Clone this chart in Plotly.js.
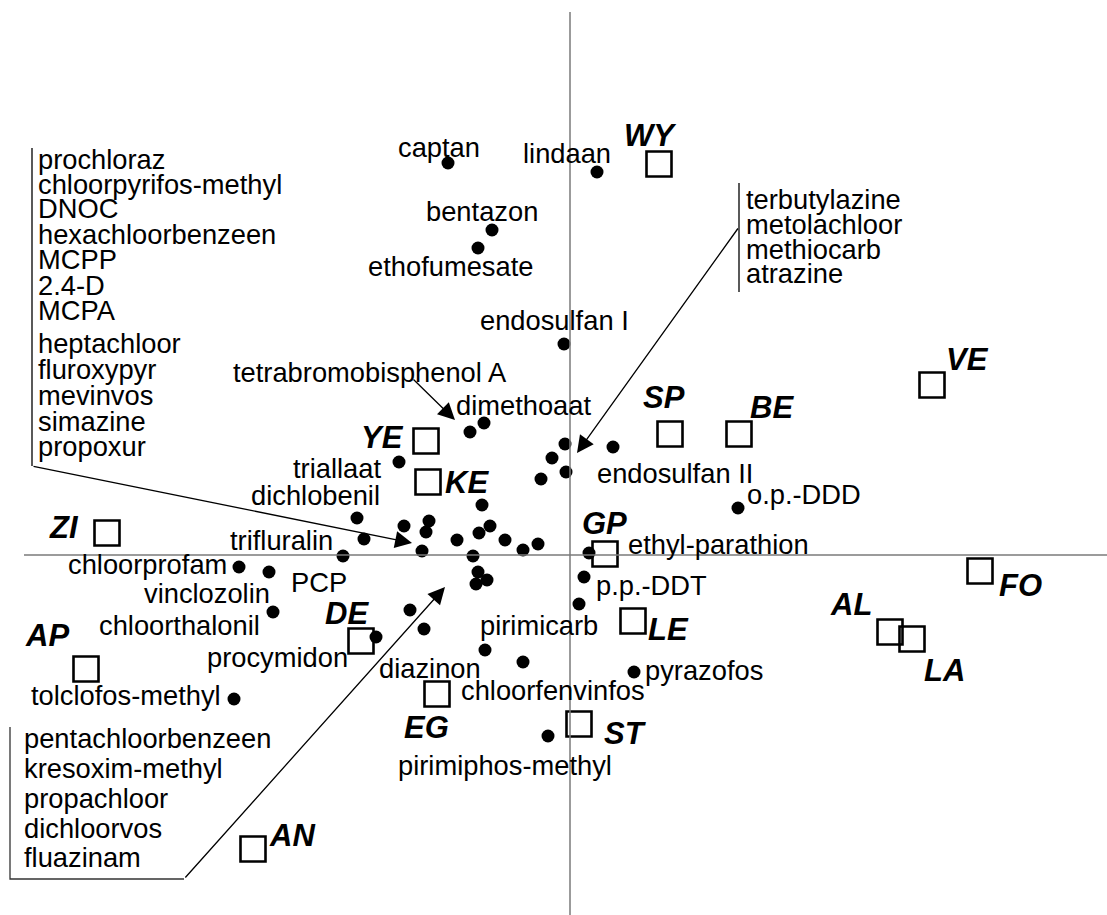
<!DOCTYPE html>
<html><head><meta charset="utf-8">
<script src="https://cdn.plot.ly/plotly-3.0.1.min.js"></script>
<style>html,body{margin:0;padding:0;background:#fff}</style>
</head><body><div id="chart" style="width:1107px;height:915px"></div>
<script>
// ---- data (biplot scores) ----
const labelledNames = ["captan","lindaan","bentazon","ethofumesate","endosulfan I","dimethoaat","tetrabromobisphenol A","triallaat","dichlobenil","trifluralin","PCP","chloorprofam","vinclozolin","chloorthalonil","procymidon","tolclofos-methyl","endosulfan II","o.p.-DDD","ethyl-parathion","p.p.-DDT","pirimicarb","diazinon","chloorfenvinfos","pyrazofos","pirimiphos-methyl"];
const labelledX = [-1.22,0.27,-0.78,-0.92,-0.06,-0.86,-1.00,-1.71,-2.13,-2.06,-2.27,-3.31,-3.01,-2.97,-1.94,-3.36,0.43,1.68,0.19,0.14,0.09,-0.85,-0.47,0.64,-0.22];
const labelledY = [3.92,3.83,3.25,3.07,2.11,1.32,1.23,0.93,0.37,0.16,-0.01,-0.12,-0.17,-0.57,-0.82,-1.44,1.08,0.47,0.02,-0.22,-0.49,-0.95,-1.07,-1.17,-1.81];

const leftGroupNames = ["prochloraz","chloorpyrifos-methyl","DNOC","hexachloorbenzeen","MCPP","2.4-D","MCPA","heptachloor","fluroxypyr","mevinvos","simazine","propoxur"];
const leftGroupX = [-0.88,-1.66,-1.41,-1.44,-0.80,-0.91,-1.13,-0.65,-0.32,-0.47,-1.48,-0.97];
const leftGroupY = [0.50,0.29,0.34,0.23,0.29,0.22,0.15,0.15,0.11,0.05,0.04,-0.01];

const rightGroupNames = ["terbutylazine","metolachloor","methiocarb","atrazine"];
const rightGroupX = [-0.05,-0.18,-0.04,-0.29];
const rightGroupY = [1.11,0.97,0.83,0.76];

const bottomGroupNames = ["pentachloorbenzeen","kresoxim-methyl","propachloor","dichloorvos","fluazinam"];
const bottomGroupX = [-0.92,-0.83,-0.94,-1.60,-1.46];
const bottomGroupY = [-0.17,-0.25,-0.29,-0.55,-0.74];

const siteNames = ["WY","YE","KE","GP","SP","BE","VE","FO","AL","LA","LE","ZI","AP","DE","EG","ST","AN"];
const siteX = [0.89,-1.44,-1.42,0.35,1.00,1.69,3.62,4.10,3.20,3.42,0.63,-4.63,-4.84,-2.09,-1.33,0.09,-3.17];
const siteY = [3.91,1.14,0.73,0.01,1.21,1.21,1.70,-0.16,-0.77,-0.84,-0.66,0.22,-1.14,-0.86,-1.39,-1.69,-2.94];

// ---- layout helpers (label placement, pixels) ----
const labelShift = {"captan":[-9,16],"lindaan":[-30,19],"bentazon":[-10,19],"ethofumesate":[-28,-18],"endosulfan I":[-10,24],
 "dimethoaat":[39,18],"triallaat":[-62,-6],"dichlobenil":[-42,23],"trifluralin":[-83,-1],"PCP":[-24,-26],"chloorprofam":[-92,3],
 "vinclozolin":[-62,-21],"chloorthalonil":[-94,-13],"procymidon":[-99,-20],"tolclofos-methyl":[-108,4],"endosulfan II":[62,-26],
 "o.p.-DDD":[66,14],"ethyl-parathion":[129,9],"p.p.-DDT":[67,-8],"pirimicarb":[-40,-21],"diazinon":[-55,-18],
 "chloorfenvinfos":[30,-28],"pyrazofos":[70,2],"pirimiphos-methyl":[-43,-29]};
const siteShift = {"WY":[-9,29],"YE":[-44,4],"KE":[39,0],"GP":[-1,31],"SP":[-6,37],"BE":[33,27],"VE":[35,26],"FO":[40,-14],
 "AL":[-39,28],"LA":[32,-31],"LE":[35,-8],"ZI":[-43,6],"AP":[-39,34],"DE":[-14,28],"EG":[-11,-33],"ST":[46,-9],"AN":[39,14]};

const PX = 100, X0 = 570, Y0 = 555;
const dx = p => (p - X0) / PX;
const dy = p => (Y0 - p) / PX;

const FONT = "Liberation Sans, Arial, sans-serif";
const FS = 27.3;

const allX = labelledX.concat(leftGroupX, rightGroupX, bottomGroupX);
const allY = labelledY.concat(leftGroupY, rightGroupY, bottomGroupY);
const allN = labelledNames.concat(leftGroupNames, rightGroupNames, bottomGroupNames);

const traces = [
  {x: allX, y: allY, text: allN, type: "scatter", mode: "markers", hoverinfo: "text",
   marker: {symbol: "circle", size: 13, color: "#000"}},
  {x: siteX, y: siteY, text: siteNames, type: "scatter", mode: "markers", hoverinfo: "text",
   marker: {symbol: "square-open", size: 25, color: "#000", line: {width: 2.6, color: "#000"}}}
];

const ann = [];
labelledNames.forEach((n, i) => {
  if (n === "tetrabromobisphenol A") return;
  const s = labelShift[n];
  ann.push({x: labelledX[i], y: labelledY[i], text: n, showarrow: false, xshift: s[0], yshift: s[1],
    xanchor: "center", yanchor: "middle", font: {family: FONT, size: FS, color: "#000"}});
});
siteNames.forEach((n, i) => {
  const s = siteShift[n];
  ann.push({x: siteX[i], y: siteY[i], text: "<b><i>" + n + "</i></b>", showarrow: false, xshift: s[0], yshift: s[1],
    xanchor: "center", yanchor: "middle", font: {family: FONT, size: 31, color: "#000"}});
});
// tetrabromobisphenol A label
ann.push({x: dx(370), y: dy(372), text: "tetrabromobisphenol A", showarrow: false, xanchor: "center", yanchor: "middle",
  font: {family: FONT, size: FS, color: "#000"}});
// group lists
const leftYs = [159,184,208,234,259,285,310,343,369,395,421,446];
leftGroupNames.forEach((n, i) => ann.push({x: dx(36), y: dy(leftYs[i]), text: n, showarrow: false, xanchor: "left", yanchor: "middle",
  font: {family: FONT, size: FS, color: "#000"}}));
const rightYs = [199,224,249,273];
rightGroupNames.forEach((n, i) => ann.push({x: dx(744), y: dy(rightYs[i]), text: n, showarrow: false, xanchor: "left", yanchor: "middle",
  font: {family: FONT, size: FS, color: "#000"}}));
const bottomYs = [738,768,798,828,857];
bottomGroupNames.forEach((n, i) => ann.push({x: dx(22), y: dy(bottomYs[i]), text: n, showarrow: false, xanchor: "left", yanchor: "middle",
  font: {family: FONT, size: FS, color: "#000"}}));
// arrows
const arrows = [[[32,466],[412,543]], [[739,227],[577,453]], [[412,378],[455,420]], [[184,879],[445,587]]];
arrows.forEach(a => ann.push({x: dx(a[1][0]), y: dy(a[1][1]), ax: dx(a[0][0]), ay: dy(a[0][1]), axref: "x", ayref: "y",
  xref: "x", yref: "y", text: "", showarrow: true, arrowhead: 2, arrowsize: 2.6, arrowwidth: 1.3, arrowcolor: "#000", standoff: 0}));

const shapes = [
  {type: "line", x0: dx(24), x1: dx(1107), y0: 0, y1: 0, line: {color: "#7a7a7a", width: 1.5}},
  {type: "line", x0: 0, x1: 0, y0: dy(12), y1: dy(915), line: {color: "#7a7a7a", width: 1.5}},
  {type: "line", x0: dx(32), x1: dx(32), y0: dy(148), y1: dy(466), line: {color: "#000", width: 1.3}},
  {type: "line", x0: dx(739), x1: dx(739), y0: dy(183), y1: dy(292), line: {color: "#000", width: 1.3}},
  {type: "path", path: `M ${dx(10)} ${dy(727)} L ${dx(10)} ${dy(879)} L ${dx(184)} ${dy(879)}`, line: {color: "#333", width: 1.3}}
];

const layout = {
  width: 1107, height: 915, margin: {l: 0, r: 0, t: 0, b: 0}, paper_bgcolor: "#fff", plot_bgcolor: "#fff",
  showlegend: false,
  xaxis: {range: [dx(0), dx(1107)], visible: false, fixedrange: true},
  yaxis: {range: [dy(915), dy(0)], visible: false, fixedrange: true},
  annotations: ann, shapes: shapes
};
Plotly.newPlot("chart", traces, layout, {displayModeBar: false, staticPlot: true});
</script></body></html>
